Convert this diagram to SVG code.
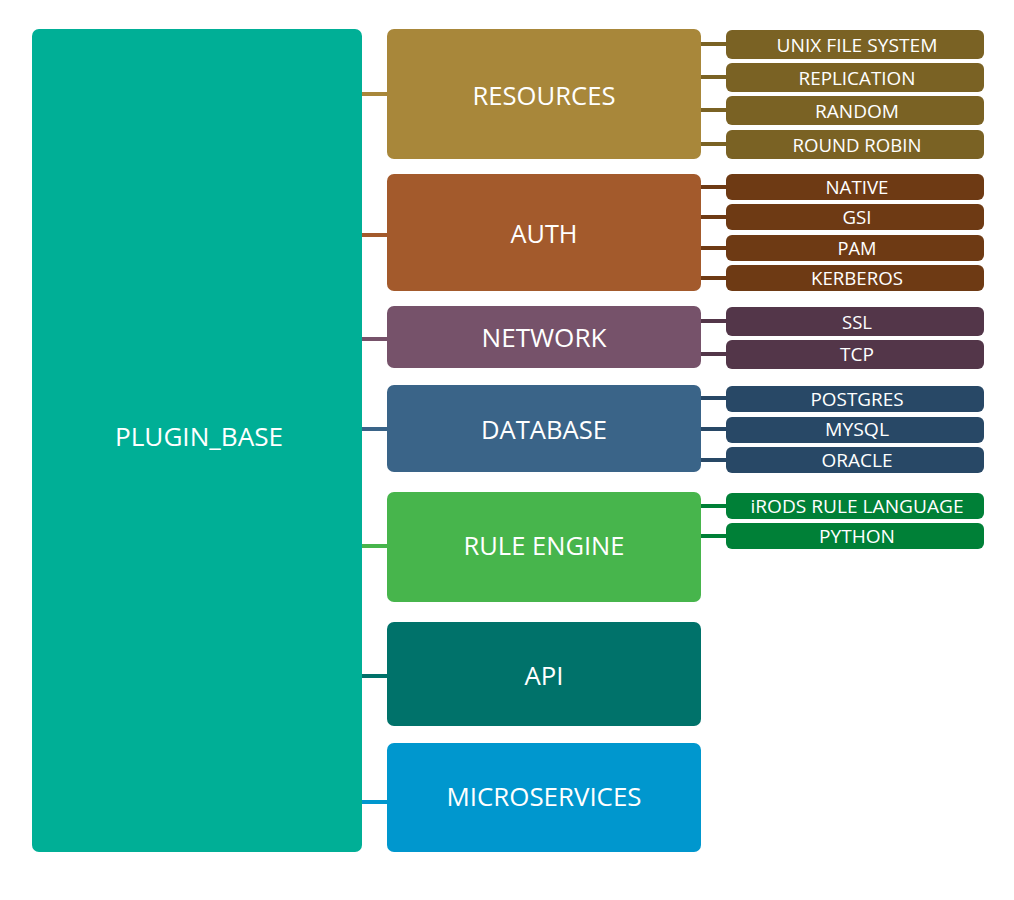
<svg xmlns="http://www.w3.org/2000/svg" width="1014" height="900" viewBox="0 0 1014 900">
<style>
text{font-family:"Open Sans","Liberation Sans",sans-serif;fill:#fff;text-anchor:middle}
.m{font-size:26px}
.s{font-size:19px}
.c line{stroke-width:4}
</style>
<rect width="1014" height="900" fill="#fff"/>
<g class="c" id="connectors">
<line x1="360" y1="94" x2="389" y2="94" stroke="#A8873A"/>
<line x1="699" y1="44" x2="728" y2="44" stroke="#7A6224"/>
<line x1="699" y1="77" x2="728" y2="77" stroke="#7A6224"/>
<line x1="699" y1="110" x2="728" y2="110" stroke="#7A6224"/>
<line x1="699" y1="144" x2="728" y2="144" stroke="#7A6224"/>
<line x1="360" y1="235" x2="389" y2="235" stroke="#A35A2C"/>
<line x1="699" y1="187" x2="728" y2="187" stroke="#6E3A14"/>
<line x1="699" y1="217" x2="728" y2="217" stroke="#6E3A14"/>
<line x1="699" y1="248" x2="728" y2="248" stroke="#6E3A14"/>
<line x1="699" y1="278" x2="728" y2="278" stroke="#6E3A14"/>
<line x1="360" y1="339" x2="389" y2="339" stroke="#76526A"/>
<line x1="699" y1="321" x2="728" y2="321" stroke="#533649"/>
<line x1="699" y1="354" x2="728" y2="354" stroke="#533649"/>
<line x1="360" y1="429" x2="389" y2="429" stroke="#3A6488"/>
<line x1="699" y1="398" x2="728" y2="398" stroke="#284866"/>
<line x1="699" y1="429" x2="728" y2="429" stroke="#284866"/>
<line x1="699" y1="460" x2="728" y2="460" stroke="#284866"/>
<line x1="360" y1="546" x2="389" y2="546" stroke="#47B54C"/>
<line x1="699" y1="506" x2="728" y2="506" stroke="#008037"/>
<line x1="699" y1="536" x2="728" y2="536" stroke="#008037"/>
<line x1="360" y1="676" x2="389" y2="676" stroke="#00726A"/>
<line x1="360" y1="802" x2="389" y2="802" stroke="#0097CE"/>
</g>
<g id="plugin_base"><rect x="32" y="29" width="330" height="823" rx="7" fill="#00AF96"/><text class="m" x="199" y="446" textLength="168" lengthAdjust="spacingAndGlyphs">PLUGIN_BASE</text></g>
<g id="resources"><rect x="387" y="29" width="314" height="130" rx="7" fill="#A8873A"/><text class="m" x="544" y="105" textLength="143" lengthAdjust="spacingAndGlyphs">RESOURCES</text></g>
<g id="unixfs"><rect x="726" y="30" width="258" height="29" rx="6" fill="#7A6224"/><text class="s" x="857" y="52" textLength="161" lengthAdjust="spacingAndGlyphs">UNIX FILE SYSTEM</text></g>
<g id="replication"><rect x="726" y="63" width="258" height="29" rx="6" fill="#7A6224"/><text class="s" x="857" y="85" textLength="117" lengthAdjust="spacingAndGlyphs">REPLICATION</text></g>
<g id="random"><rect x="726" y="96" width="258" height="29" rx="6" fill="#7A6224"/><text class="s" x="857" y="118" textLength="84" lengthAdjust="spacingAndGlyphs">RANDOM</text></g>
<g id="roundrobin"><rect x="726" y="130" width="258" height="29" rx="6" fill="#7A6224"/><text class="s" x="857" y="152" textLength="129" lengthAdjust="spacingAndGlyphs">ROUND ROBIN</text></g>
<g id="auth"><rect x="387" y="174" width="314" height="117" rx="7" fill="#A35A2C"/><text class="m" x="544" y="243" textLength="67" lengthAdjust="spacingAndGlyphs">AUTH</text></g>
<g id="native"><rect x="726" y="174" width="258" height="26" rx="6" fill="#6E3A14"/><text class="s" x="857" y="194" textLength="63" lengthAdjust="spacingAndGlyphs">NATIVE</text></g>
<g id="gsi"><rect x="726" y="204" width="258" height="26" rx="6" fill="#6E3A14"/><text class="s" x="857" y="224" textLength="29" lengthAdjust="spacingAndGlyphs">GSI</text></g>
<g id="pam"><rect x="726" y="235" width="258" height="26" rx="6" fill="#6E3A14"/><text class="s" x="857" y="255" textLength="39" lengthAdjust="spacingAndGlyphs">PAM</text></g>
<g id="kerberos"><rect x="726" y="265" width="258" height="26" rx="6" fill="#6E3A14"/><text class="s" x="857" y="285" textLength="92" lengthAdjust="spacingAndGlyphs">KERBEROS</text></g>
<g id="network"><rect x="387" y="306" width="314" height="62" rx="7" fill="#76526A"/><text class="m" x="544" y="347" textLength="125" lengthAdjust="spacingAndGlyphs">NETWORK</text></g>
<g id="ssl"><rect x="726" y="307" width="258" height="29" rx="6" fill="#533649"/><text class="s" x="857" y="329" textLength="30" lengthAdjust="spacingAndGlyphs">SSL</text></g>
<g id="tcp"><rect x="726" y="340" width="258" height="29" rx="6" fill="#533649"/><text class="s" x="857" y="361" textLength="34" lengthAdjust="spacingAndGlyphs">TCP</text></g>
<g id="database"><rect x="387" y="385" width="314" height="87" rx="7" fill="#3A6488"/><text class="m" x="544" y="439" textLength="126" lengthAdjust="spacingAndGlyphs">DATABASE</text></g>
<g id="postgres"><rect x="726" y="386" width="258" height="26" rx="6" fill="#284866"/><text class="s" x="857" y="406" textLength="93" lengthAdjust="spacingAndGlyphs">POSTGRES</text></g>
<g id="mysql"><rect x="726" y="417" width="258" height="26" rx="6" fill="#284866"/><text class="s" x="857" y="436" textLength="64" lengthAdjust="spacingAndGlyphs">MYSQL</text></g>
<g id="oracle"><rect x="726" y="447" width="258" height="26" rx="6" fill="#284866"/><text class="s" x="857" y="467" textLength="71" lengthAdjust="spacingAndGlyphs">ORACLE</text></g>
<g id="ruleengine"><rect x="387" y="492" width="314" height="110" rx="7" fill="#47B54C"/><text class="m" x="544" y="555" textLength="161" lengthAdjust="spacingAndGlyphs">RULE ENGINE</text></g>
<g id="irodsrl"><rect x="726" y="493" width="258" height="26" rx="6" fill="#008037"/><text class="s" x="857" y="513" textLength="213" lengthAdjust="spacingAndGlyphs">iRODS RULE LANGUAGE</text></g>
<g id="python"><rect x="726" y="523" width="258" height="26" rx="6" fill="#008037"/><text class="s" x="857" y="543" textLength="76" lengthAdjust="spacingAndGlyphs">PYTHON</text></g>
<g id="api"><rect x="387" y="622" width="314" height="104" rx="7" fill="#00726A"/><text class="m" x="544" y="685" textLength="39" lengthAdjust="spacingAndGlyphs">API</text></g>
<g id="microservices"><rect x="387" y="743" width="314" height="109" rx="7" fill="#0097CE"/><text class="m" x="544" y="806" textLength="195" lengthAdjust="spacingAndGlyphs">MICROSERVICES</text></g>
</svg>
